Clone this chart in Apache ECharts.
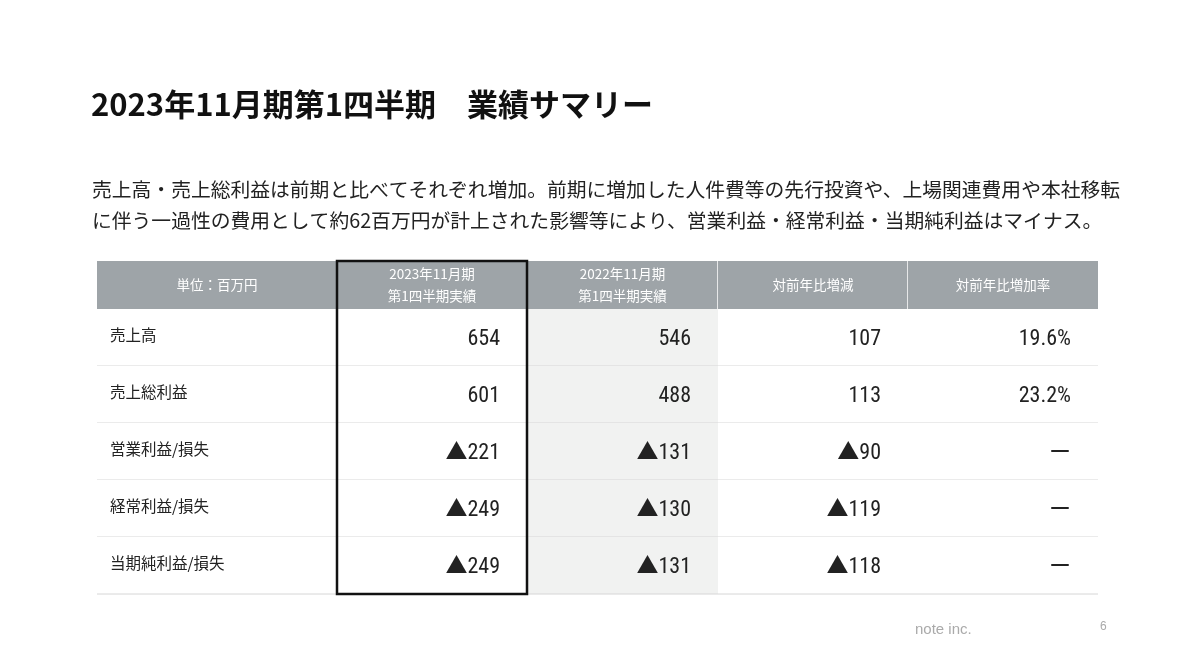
<!DOCTYPE html>
<html><head><meta charset="utf-8">
<script src="https://cdn.jsdelivr.net/npm/echarts@6/dist/echarts.min.js"></script>
<style>html,body{margin:0;background:#fff}#c{width:1200px;height:671px}</style>
</head><body><div id="c"></div>
<script>
const headers = ['単位：百万円','2023年11月期\n第1四半期実績','2022年11月期\n第1四半期実績','対前年比増減','対前年比増加率'];
const rowLabels = ['売上高','売上総利益','営業利益/損失','経常利益/損失','当期純利益/損失'];
const fy2023 = ['654','601','▲221','▲249','▲249'];
const fy2022 = ['546','488','▲131','▲130','▲131'];
const yoyDiff = ['107','113','▲90','▲119','▲118'];
const yoyRate = ['19.6%','23.2%','ー','ー','ー'];

const colEdges = [0,240,430,621,811,1001];
const rowEdges = [0,48,105,162,219,276,333];
const FONT = '"Noto Sans CJK JP", "Noto Sans", sans-serif';

const cells = [];
headers.forEach((h,i)=>cells.push([i,0,h]));
rowLabels.forEach((l,r)=>{
  [l,fy2023[r],fy2022[r],yoyDiff[r],yoyRate[r]].forEach((v,c)=>cells.push([c,r+1,v]));
});

function renderItem(params, api){
  const c = api.value(0), r = api.value(1);
  const txt = cells[params.dataIndex][2];
  const p0 = api.coord([colEdges[c], rowEdges[r]]);
  const p1 = api.coord([colEdges[c+1], rowEdges[r+1]]);
  const x=p0[0], y=p0[1], w=p1[0]-p0[0], h=p1[1]-p0[1];
  const ch=[];
  let fill = '#fff';
  if (r===0) fill = '#9ea4a8';
  else if (c===2) fill = '#f1f2f1';
  ch.push({type:'rect',shape:{x,y,width:w,height:h},style:{fill}});
  if (r===0 && c<4) ch.push({type:'line',shape:{x1:x+w,y1:y,x2:x+w,y2:y+h},style:{stroke:'#fff',lineWidth:1.5}});
  if (r>0) ch.push({type:'line',shape:{x1:x,y1:y+h,x2:x+w,y2:y+h},style:{stroke:'#d6d6d6',lineWidth:1}});
  if (r===0) {
    ch.push({type:'text',style:{text:txt,x:x+w/2,y:y+h/2,align:'center',verticalAlign:'middle',fill:'#fff',font:'13.5px '+FONT,lineHeight:22}});
  } else if (c===0) {
    ch.push({type:'text',style:{text:txt,x:x+13,y:y+h/2-2,align:'left',verticalAlign:'middle',fill:'#222',font:'15.5px '+FONT}});
  } else {
    ch.push({type:'text',style:{text:txt,x:x+w-27,y:y+h/2+2,align:'right',verticalAlign:'middle',fill:'#222',font:'22px "Roboto Condensed", Roboto, '+FONT}});
  }
  return {type:'group',children:ch};
}

const chart = echarts.init(document.getElementById('c'));
chart.setOption({
  animation:false,
  grid:{left:97,right:102,top:261,bottom:77},
  xAxis:{type:'value',min:0,max:1001,show:false},
  yAxis:{type:'value',min:0,max:333,inverse:true,show:false},
  series:[{type:'custom',renderItem,data:cells.map(d=>[d[0],d[1]]),z:1}],
  graphic:[
    {type:'text',left:91,top:89,style:{text:'2023年11月期第1四半期　業績サマリー',font:'bold 31px '+FONT,fill:'#111'}},
    {type:'text',left:92,top:174,style:{text:'売上高・売上総利益は前期と比べてそれぞれ増加。前期に増加した人件費等の先行投資や、上場関連費用や本社移転\nに伴う一過性の費用として約62百万円が計上された影響等により、営業利益・経常利益・当期純利益はマイナス。',font:'19.8px '+FONT,fill:'#222',lineHeight:31}},
    {type:'rect',shape:{x:337,y:261,width:190,height:333},style:{fill:'none',stroke:'#111',lineWidth:2.5},z:100},
    {type:'text',left:915,top:622,style:{text:'note inc.',font:'15px Arial, sans-serif',fill:'#aaa'}},
    {type:'text',left:1100,top:621,style:{text:'6',font:'12px Arial, sans-serif',fill:'#aaa'}}
  ]
});
</script></body></html>
